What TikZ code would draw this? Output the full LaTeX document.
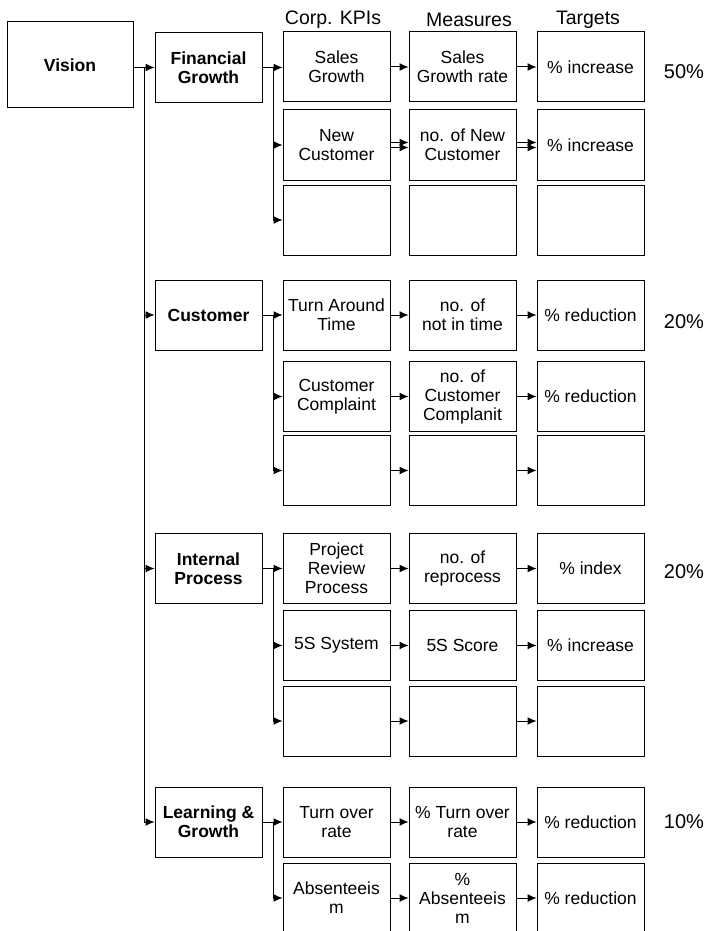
\documentclass[tikz,border=0pt]{standalone}
\usepackage{fontspec}
\setmainfont{Liberation Sans}
\usetikzlibrary{arrows.meta,positioning}

\begin{document}
\begin{tikzpicture}[x=1pt, y=-1pt,
    box/.style={draw, rectangle, line width=1pt, minimum width=107pt, minimum height=70pt, align=center, inner sep=1pt, font=\fontsize{17.5}{19}\selectfont},
    pillar/.style={box, font=\fontsize{17.5}{19}\selectfont\bfseries},
    head/.style={font=\fontsize{19.5}{21}\selectfont},
    pct/.style={font=\fontsize{20}{22}\selectfont},
    link/.style={-{Latex[length=9pt,width=8pt]}, line width=1pt}]
    \useasboundingbox (0,0) rectangle (708,931);

    % Column headers
    \node[head] (hkpi) at (333,20) {Corp. KPIs};
    \node[head] (hmes) at (469,20) {Measures};
    \node[head] (htar) at (588,20) {Targets};

    % Vision and perspectives
    \node[pillar, minimum width=126pt, minimum height=86pt] (vis) at (70,65) {Vision};
    \node[pillar] (fin) at (208.5,67.5) {Financial\\Growth};
    \node[pillar] (cus) at (208.5,315) {Customer};
    \node[pillar] (ipr) at (208.5,568.5) {Internal\\Process};
    \node[pillar] (lng) at (208.5,822) {Learning \&\\Growth};

    % Financial Growth rows
    \node[box] (fin1k) at (336.5,67) {Sales\\Growth};
    \node[box] (fin1m) at (462.5,67) {Sales\\Growth rate};
    \node[box] (fin1t) at (590.5,67) {\% increase};
    \node[box] (fin2k) at (336.5,145) {New\\Customer};
    \node[box] (fin2m) at (462.5,145) {no. of New\\Customer};
    \node[box] (fin2t) at (590.5,145) {\% increase};
    \node[box] (fin3k) at (336.5,220) {};
    \node[box] (fin3m) at (462.5,220) {};
    \node[box] (fin3t) at (590.5,220) {};

    % Customer rows
    \node[box] (cus1k) at (336.5,315) {Turn Around\\Time};
    \node[box] (cus1m) at (462.5,315) {no. of\\not in time};
    \node[box] (cus1t) at (590.5,315) {\% reduction};
    \node[box] (cus2k) at (336.5,396.5) {Customer\\Complaint};
    \node[box] (cus2m) at (462.5,396.5) {no. of\\Customer\\Complanit};
    \node[box] (cus2t) at (590.5,396.5) {\% reduction};
    \node[box] (cus3k) at (336.5,470.5) {};
    \node[box] (cus3m) at (462.5,470.5) {};
    \node[box] (cus3t) at (590.5,470.5) {};

    % Internal Process rows
    \node[box] (ipr1k) at (336.5,568.5) {Project\\Review\\Process};
    \node[box] (ipr1m) at (462.5,568.5) {no. of\\reprocess};
    \node[box] (ipr1t) at (590.5,568.5) {\% index};
    \node[box] (ipr2k) at (336.5,645.5) {5S System};
    \node[box] (ipr2m) at (462.5,645.5) {5S Score};
    \node[box] (ipr2t) at (590.5,645.5) {\% increase};
    \node[box] (ipr3k) at (336.5,721) {};
    \node[box] (ipr3m) at (462.5,721) {};
    \node[box] (ipr3t) at (590.5,721) {};

    % Learning & Growth rows
    \node[box] (lng1k) at (336.5,822) {Turn over\\rate};
    \node[box] (lng1m) at (462.5,822) {\% Turn over\\rate};
    \node[box] (lng1t) at (590.5,822) {\% reduction};
    \node[box] (lng2k) at (336.5,898) {Absenteeis\\m};
    \node[box] (lng2m) at (462.5,898) {\%\\Absenteeis\\m};
    \node[box] (lng2t) at (590.5,898) {\% reduction};

    % Weights
    \node[pct] (wfin) at (684,72) {50\%};
    \node[pct] (wcus) at (684,322) {20\%};
    \node[pct] (wipr) at (684,572) {20\%};
    \node[pct] (wlng) at (684,822) {10\%};

    % Spine from Vision
    \coordinate (sp) at (144,67.5);
    \draw[link] (vis.east |- fin.west) -- (fin.west);
    \draw[link] (sp) |- (cus.west);
    \draw[link] (sp) |- (ipr.west);
    \draw[link] (sp) |- (lng.west);

    % Branches to KPIs
    \coordinate (fb) at (273,67.5);
    \draw[link] (fin.east) -- (fin1k.west |- fin.east);
    \draw[link] (fb) |- (fin2k.west);
    \draw[link] (fb) |- (fin3k.west);
    \coordinate (cb) at (273,315);
    \draw[link] (cus.east) -- (cus1k.west);
    \draw[link] (cb) |- (cus2k.west);
    \draw[link] (cb) |- (cus3k.west);
    \coordinate (ib) at (273,568.5);
    \draw[link] (ipr.east) -- (ipr1k.west);
    \draw[link] (ib) |- (ipr2k.west);
    \draw[link] (ib) |- (ipr3k.west);
    \coordinate (lb) at (273,822);
    \draw[link] (lng.east) -- (lng1k.west);
    \draw[link] (lb) |- (lng2k.west);

    % KPI -> measure -> target
    \draw[link] (fin1k) -- (fin1m);
    \draw[link] (fin1m) -- (fin1t);
    \draw[link] ([yshift=-2.5pt]fin2k.east) -- ([yshift=-2.5pt]fin2m.west);
    \draw[link] ([yshift=2.5pt]fin2k.east) -- ([yshift=2.5pt]fin2m.west);
    \draw[link] ([yshift=-2.5pt]fin2m.east) -- ([yshift=-2.5pt]fin2t.west);
    \draw[link] ([yshift=2.5pt]fin2m.east) -- ([yshift=2.5pt]fin2t.west);
    \draw[link] (cus1k) -- (cus1m);
    \draw[link] (cus1m) -- (cus1t);
    \draw[link] (cus2k) -- (cus2m);
    \draw[link] (cus2m) -- (cus2t);
    \draw[link] (cus3k) -- (cus3m);
    \draw[link] (cus3m) -- (cus3t);
    \draw[link] (ipr1k) -- (ipr1m);
    \draw[link] (ipr1m) -- (ipr1t);
    \draw[link] (ipr2k) -- (ipr2m);
    \draw[link] (ipr2m) -- (ipr2t);
    \draw[link] (ipr3k) -- (ipr3m);
    \draw[link] (ipr3m) -- (ipr3t);
    \draw[link] (lng1k) -- (lng1m);
    \draw[link] (lng1m) -- (lng1t);
    \draw[link] (lng2k) -- (lng2m);
    \draw[link] (lng2m) -- (lng2t);
\end{tikzpicture}
\end{document}
